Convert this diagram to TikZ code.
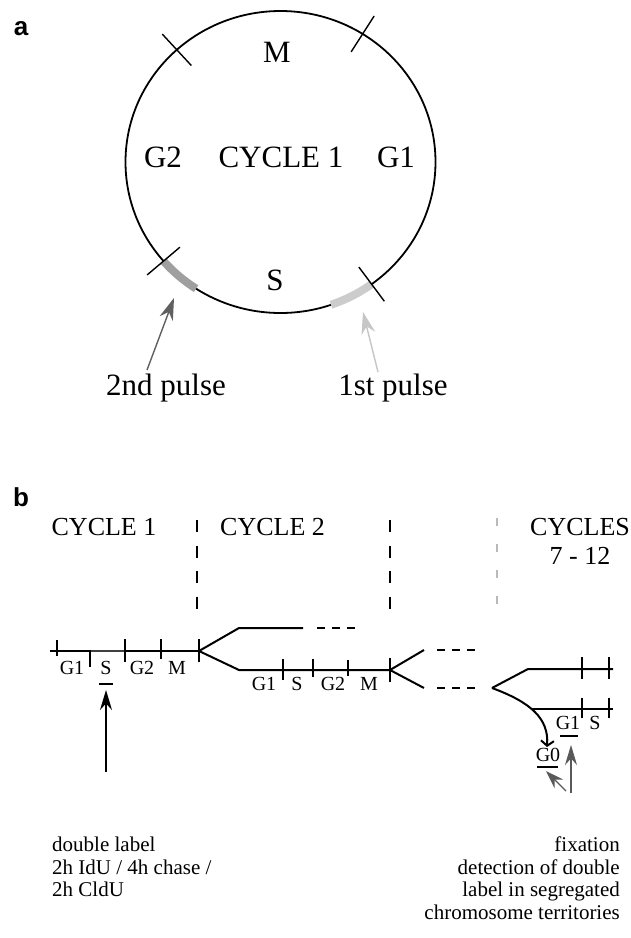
\documentclass[tikz,border=0pt]{standalone}
\usepackage{fontspec}
\setmainfont{Liberation Serif}
\newfontfamily\panelfont{Liberation Sans}
\usetikzlibrary{arrows.meta}
\begin{document}
\begin{tikzpicture}[x=1pt,y=-1pt,
  panel/.style={font=\panelfont\bfseries\fontsize{26}{26}\selectfont, inner sep=0},
  bigtext/.style={font=\fontsize{31}{31}\selectfont, inner sep=0},
  head/.style={font=\fontsize{26}{29}\selectfont, inner sep=0, align=center},
  phase/.style={font=\fontsize{20}{20}\selectfont, inner sep=0},
  note/.style={font=\fontsize{21}{22.5}\selectfont, inner sep=0},
  cyc/.style={line width=1.8pt},
  tickmark/.style={line width=1.4pt},
  track/.style={line width=2pt},
  bar/.style={line width=1.6pt, dash pattern=on 12pt off 13.5pt},
  softbar/.style={line width=1.6pt, gray!55, dash pattern=on 8pt off 18pt},
  stub/.style={line width=2pt, dash pattern=on 8pt off 7pt},
  band/.style={line width=8pt},
  pulse/.style={line width=1.4pt, -{Stealth[length=22pt,width=14pt]}},
  uline/.style={line width=2.2pt}
]
\useasboundingbox (0,0) rectangle (631,938);

% ---------------- panel a: the cell cycle ----------------
\node[panel] (pa) at (21,29) {a};
\def\cx{280.5}\def\cy{162}\def\rx{155}\def\ry{151}
\coordinate (cc) at (\cx,\cy);
\draw[cyc] (cc) ellipse [x radius=\rx, y radius=\ry];

% labelled pulses on the S phase
\draw[band, gray!75]
  plot[domain=221:237, samples=20] ({\cx+\rx*cos(\x)},{\cy-\ry*sin(\x)});
\draw[band, gray!40]
  plot[domain=289:306, samples=20] ({\cx+\rx*cos(\x)},{\cy-\ry*sin(\x)});

% phase boundaries
\foreach \a in {132,58,221,306}
  \draw[tickmark] ({\cx+0.86*\rx*cos(\a)},{\cy-0.86*\ry*sin(\a)})
              -- ({\cx+1.14*\rx*cos(\a)},{\cy-1.14*\ry*sin(\a)});

\node[bigtext] (lM)  at (277,52)  {M};
\node[bigtext] (lG2) at (163,157) {G2};
\node[bigtext] (lC1) at (281,157) {CYCLE 1};
\node[bigtext] (lG1) at (396,157) {G1};
\node[bigtext] (lS)  at (275,280) {S};

\node[bigtext] (p2) at (166,388) {2nd pulse};
\node[bigtext] (p1) at (393,388) {1st pulse};
\coordinate (p2tail) at (147,370);
\coordinate (p2tip)  at (174,298);
\coordinate (p1tail) at (378,372);
\coordinate (p1tip)  at (363,312);
\draw[pulse, gray!75!black] (p2tail) -- (p2tip);
\draw[pulse, gray!45] (p1tail) -- (p1tip);

% ---------------- panel b: cycles along a time line ----------------
\node[panel] (pb) at (21,497) {b};
\node[head] (h1) at (104,527) {CYCLE 1};
\node[head, anchor=west] (h2) at (220,527) {CYCLE 2};
\node[head] (h3) at (580,541) {CYCLES\\7 - 12};

\draw[bar] (197,520) -- (197,612);
\draw[bar] (390,520) -- (390,612);
\draw[softbar] (497,518) -- (497,612);

% cycle 1
\coordinate (s0) at (50,651);
\coordinate (sa) at (90,651);
\coordinate (sb) at (125,651);
\coordinate (j1) at (199,651);
\draw[track] (s0) -- (sa);
\draw[track, black!75] (sa) -- (sb);
\draw[track] (sb) -- (j1);
\foreach \x/\t/\b in {57/640/656, 90/650/667, 125/639/662, 161/639/659, 199/639/662}
  \draw[tickmark] (\x,\t) -- (\x,\b);
\node[phase] (c1g1) at (72,668) {G1};
\node[phase] (c1s)  at (106,668) {S};
\node[phase] (c1g2) at (142,668) {G2};
\node[phase] (c1m)  at (177,668) {M};
\draw[uline] (99,684) -- (113,684);
\coordinate (labtail) at (106,772);
\coordinate (labtip)  at (106,690);
\draw[line width=1.5pt, -{Stealth[length=20pt,width=12pt]}] (labtail) -- (labtip);

% cycle 2: upper daughter
\coordinate (u1) at (239,628);
\coordinate (u2) at (303,628);
\draw[track] (j1) -- (u1) -- (u2);
\draw[stub] (317,628) -- (356,628);

% cycle 2: lower daughter
\coordinate (l1) at (239,670);
\coordinate (ls1) at (283,670);
\coordinate (ls2) at (348,670);
\coordinate (j2) at (390,670);
\draw[track] (j1) -- (l1) -- (j2);
\draw[line width=2.8pt] (ls1) -- (ls2);
\foreach \x/\t/\b in {283/659/680, 313/659/677, 348/660/676, 390/658/682}
  \draw[tickmark] (\x,\t) -- (\x,\b);
\node[phase] (c2g1) at (264,684) {G1};
\node[phase] (c2s)  at (297,684) {S};
\node[phase] (c2g2) at (333,684) {G2};
\node[phase] (c2m)  at (369,684) {M};

% branches towards later cycles
\coordinate (v1) at (424,650);
\coordinate (v2) at (424,688);
\draw[track] (j2) -- (v1);
\draw[track] (j2) -- (v2);
\draw[stub] (437,650) -- (476,650);
\draw[stub] (437,688) -- (476,688);

% cycles 7-12
\coordinate (j3) at (492,688);
\coordinate (w1) at (528,669);
\coordinate (w2) at (613,669);
\draw[track] (j3) -- (w1) -- (w2);
\foreach \x in {582,609}
  \draw[tickmark] (\x,657) -- (\x,679);

\coordinate (g0end) at (547,747);
\draw[track, -{Straight Barb[length=5pt,width=13pt]}]
  (j3) .. controls (530,702) and (549,718) .. (g0end);
\coordinate (q1) at (532,709);
\coordinate (q2) at (613,709);
\draw[track] (q1) -- (q2);
\foreach \x in {582,609}
  \draw[tickmark] (\x,698) -- (\x,718);
\node[phase] (c7g1) at (568,723) {G1};
\node[phase] (c7s)  at (595,723) {S};
\draw[uline] (560,736) -- (578,736);
\node[phase] (c7g0) at (548,755) {G0};
\draw[uline] (537,767) -- (558,767);

\coordinate (d1tail) at (571,793);
\coordinate (d1tip)  at (571,745);
\coordinate (d2tail) at (566,791);
\coordinate (d2tip)  at (546,771);
\draw[line width=1.2pt, gray!70!black, -{Stealth[length=20pt,width=12pt]}] (d1tail) -- (d1tip);
\draw[line width=1.2pt, gray!70!black, -{Stealth[length=18pt,width=12pt]}] (d2tail) -- (d2tip);

% protocol notes
\node[note, anchor=north west, align=left] (nl) at (52,837)
  {double label\\2h IdU / 4h chase /\\2h CldU};
\node[note, anchor=north east, align=right] (nr) at (620,837)
  {fixation\\detection of double\\label in segregated\\chromosome territories};
\end{tikzpicture}
\end{document}
